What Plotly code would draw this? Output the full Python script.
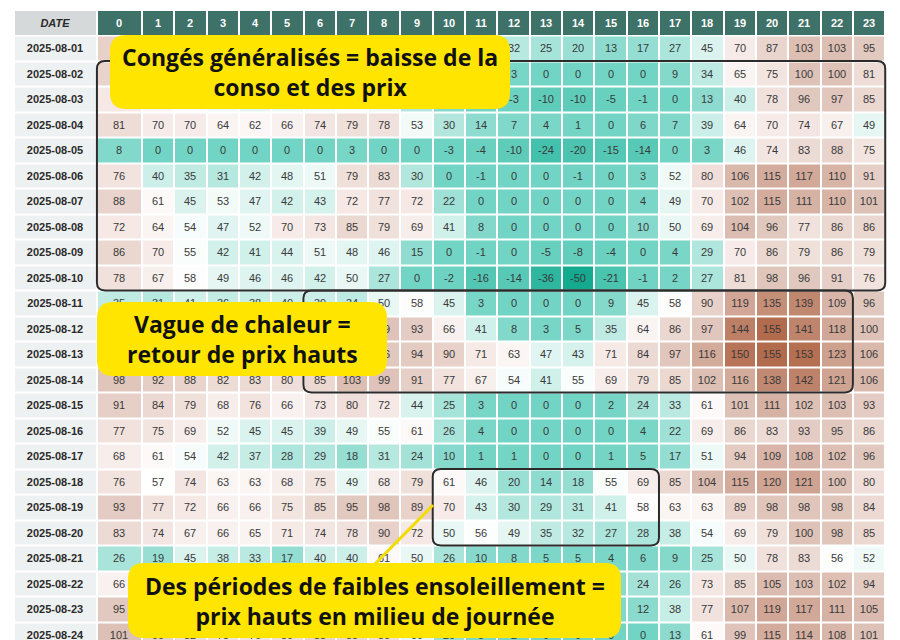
import plotly.graph_objects as go

# ---------------- data ----------------
hours = [str(h) for h in range(24)]
dates = ["2025-08-01", "2025-08-02", "2025-08-03", "2025-08-04", "2025-08-05",
         "2025-08-06", "2025-08-07", "2025-08-08", "2025-08-09", "2025-08-10",
         "2025-08-11", "2025-08-12", "2025-08-13", "2025-08-14", "2025-08-15",
         "2025-08-16", "2025-08-17", "2025-08-18", "2025-08-19", "2025-08-20",
         "2025-08-21", "2025-08-22", "2025-08-23", "2025-08-24"]

d01 = [90, 78, 72, 68, 66, 70, 78, 84, 80, 62, 45, 38, 32, 25, 20, 13, 17, 27, 45, 70, 87, 103, 103, 95]
d02 = [88, 76, 70, 66, 63, 66, 72, 74, 70, 52, 30, 12, 3, 0, 0, 0, 0, 9, 34, 65, 75, 100, 100, 81]
d03 = [72, 64, 58, 52, 48, 50, 52, 55, 50, 30, 8, -1, -3, -10, -10, -5, -1, 0, 13, 40, 78, 96, 97, 85]
d04 = [81, 70, 70, 64, 62, 66, 74, 79, 78, 53, 30, 14, 7, 4, 1, 0, 6, 7, 39, 64, 70, 74, 67, 49]
d05 = [8, 0, 0, 0, 0, 0, 0, 3, 0, 0, -3, -4, -10, -24, -20, -15, -14, 0, 3, 46, 74, 83, 88, 75]
d06 = [76, 40, 35, 31, 42, 48, 51, 79, 83, 30, 0, -1, 0, 0, -1, 0, 3, 52, 80, 106, 115, 117, 110, 91]
d07 = [88, 61, 45, 53, 47, 42, 43, 72, 77, 72, 22, 0, 0, 0, 0, 0, 4, 49, 70, 102, 115, 111, 110, 101]
d08 = [72, 64, 54, 47, 52, 70, 73, 85, 79, 69, 41, 8, 0, 0, 0, 0, 10, 50, 69, 104, 96, 77, 86, 86]
d09 = [86, 70, 55, 42, 41, 44, 51, 48, 46, 15, 0, -1, 0, -5, -8, -4, 0, 4, 29, 70, 86, 79, 86, 79]
d10 = [78, 67, 58, 49, 46, 46, 42, 50, 27, 0, -2, -16, -14, -36, -50, -21, -1, 2, 27, 81, 98, 96, 91, 76]
d11 = [35, 31, 41, 36, 38, 40, 39, 34, 50, 58, 45, 3, 0, 0, 0, 9, 45, 58, 90, 119, 135, 139, 109, 96]
d12 = [95, 88, 84, 80, 80, 78, 85, 100, 99, 93, 66, 41, 8, 3, 5, 35, 64, 86, 97, 144, 155, 141, 118, 100]
d13 = [96, 90, 86, 82, 82, 80, 88, 102, 96, 94, 90, 71, 63, 47, 43, 71, 84, 97, 116, 150, 155, 153, 123, 106]
d14 = [98, 92, 88, 82, 83, 80, 85, 103, 99, 91, 77, 67, 54, 41, 55, 69, 79, 85, 102, 116, 138, 142, 121, 106]
d15 = [91, 84, 79, 68, 76, 66, 73, 80, 72, 44, 25, 3, 0, 0, 0, 2, 24, 33, 61, 101, 111, 102, 103, 93]
d16 = [77, 75, 69, 52, 45, 45, 39, 49, 55, 61, 26, 4, 0, 0, 0, 0, 4, 22, 69, 86, 83, 93, 95, 86]
d17 = [68, 61, 54, 42, 37, 28, 29, 18, 31, 24, 10, 1, 1, 0, 0, 1, 5, 17, 51, 94, 109, 108, 102, 96]
d18 = [76, 57, 74, 63, 63, 68, 75, 49, 68, 79, 61, 46, 20, 14, 18, 55, 69, 85, 104, 115, 120, 121, 100, 80]
d19 = [93, 77, 72, 66, 66, 75, 85, 95, 98, 89, 70, 43, 30, 29, 31, 41, 58, 63, 63, 89, 98, 98, 98, 84]
d20 = [83, 74, 67, 66, 65, 71, 74, 78, 90, 72, 50, 56, 49, 35, 32, 27, 28, 38, 54, 69, 79, 100, 98, 85]
d21 = [26, 19, 45, 38, 33, 17, 40, 40, 61, 50, 26, 10, 8, 5, 5, 4, 6, 9, 25, 50, 78, 83, 56, 52]
d22 = [66, 58, 52, 48, 46, 50, 55, 62, 60, 45, 20, 8, 5, 4, 6, 12, 24, 26, 73, 85, 105, 103, 102, 94]
d23 = [95, 85, 78, 72, 70, 72, 80, 88, 82, 60, 30, 10, 5, 3, 4, 8, 12, 38, 77, 107, 119, 117, 111, 105]
d24 = [101, 90, 82, 78, 76, 80, 88, 85, 80, 50, 20, 5, 2, 0, 0, 0, 0, 13, 61, 99, 115, 114, 108, 101]

values = [d01, d02, d03, d04, d05, d06, d07, d08, d09, d10, d11, d12,
          d13, d14, d15, d16, d17, d18, d19, d20, d21, d22, d23, d24]

header_label = "DATE"
callout_1 = "Congés généralisés = baisse de la<br>conso et des prix"
callout_2 = "Vague de chaleur =<br>retour de prix hauts"
callout_3 = "Des périodes de faibles ensoleillement =<br>prix hauts en milieu de journée"

# ---------------- layout geometry ----------------
W, H = 900, 640
col0_left = -0.89
hour_edges = [col0_left] + [h + 0.5 for h in range(24)]
date_edges = [-3.456, -0.89]
row_idx = list(range(len(dates)))

colorscale = [
    [0.0000, "#14aa90"],
    [0.1220, "#42c0ab"],
    [0.2439, "#72d4c4"],
    [0.3415, "#9adfd4"],
    [0.4146, "#bfebe3"],
    [0.4780, "#e3f6f2"],
    [0.5220, "#ffffff"],
    [0.5854, "#f6ebe8"],
    [0.6585, "#ebd8d1"],
    [0.7317, "#dec2b8"],
    [0.8293, "#d0a594"],
    [0.9268, "#c0866e"],
    [1.0000, "#b36b4d"],
]

CELL_FONT = "Liberation Sans, Arial, sans-serif"

cell_text = [[str(v) for v in row] for row in values]

fig = go.Figure()

fig.add_trace(go.Heatmap(
    z=values, x=hour_edges, y=row_idx, text=cell_text,
    zmin=-50, zmax=155, colorscale=colorscale, showscale=False,
    xgap=2, ygap=2,
    texttemplate="%{text}", textfont=dict(family=CELL_FONT, size=11, color="#3a3a3a"),
    hoverinfo="skip",
))

fig.add_trace(go.Heatmap(
    z=[[1] * 24], x=hour_edges, y=[-1],
    text=[["<b>" + h + "</b>" for h in hours]], texttemplate="%{text}",
    textfont=dict(family=CELL_FONT, size=11, color="#ffffff"),
    colorscale=[[0, "#3e7167"], [1, "#3e7167"]], showscale=False,
    xgap=2, ygap=2, hoverinfo="skip",
))

fig.add_trace(go.Heatmap(
    z=[[1] for _ in dates], x=date_edges, y=row_idx,
    text=[["<b>" + d + "</b>"] for d in dates], texttemplate="%{text}",
    textfont=dict(family=CELL_FONT, size=11, color="#2a2a2a"),
    colorscale=[[0, "#eef1f1"], [1, "#eef1f1"]], showscale=False,
    xgap=2, ygap=2, hoverinfo="skip",
))

fig.add_trace(go.Heatmap(
    z=[[1]], x=date_edges, y=[-1],
    text=[["<b><i>" + header_label + "</i></b>"]], texttemplate="%{text}",
    textfont=dict(family=CELL_FONT, size=11, color="#2a2a2a"),
    colorscale=[[0, "#d6d9d9"], [1, "#d6d9d9"]], showscale=False,
    xgap=2, ygap=2, hoverinfo="skip",
))


def rounded(x0, x1, y0, y1, rx, ry):
    return (f"M {x0+rx},{y0} L {x1-rx},{y0} Q {x1},{y0} {x1},{y0+ry} "
            f"L {x1},{y1-ry} Q {x1},{y1} {x1-rx},{y1} "
            f"L {x0+rx},{y1} Q {x0},{y1} {x0},{y1-ry} "
            f"L {x0},{y0+ry} Q {x0},{y0} {x0+rx},{y0} Z")


shapes = []
frames = [
    (0, 23, 1, 9),
    (6, 22, 10, 13),
    (10, 16, 17, 19),
]
for c0, c1, r0, r1 in frames:
    x0 = hour_edges[c0]
    x1 = hour_edges[c1 + 1]
    y0 = r0 - 0.5
    y1 = r1 + 0.5
    shapes.append(dict(type="path", xref="x", yref="y",
                       path=rounded(x0, x1, y1, y0, 0.25, -0.3),
                       line=dict(color="#2b2b2b", width=2), fillcolor="rgba(0,0,0,0)"))


def px_x(p):
    return p / W


def px_y(p):
    return 1 - p / H


shapes.append(dict(type="line", xref="paper", yref="paper",
                   x0=px_x(433), y0=px_y(505), x1=px_x(373), y1=px_y(566),
                   line=dict(color="#f3dc00", width=3)))

boxes = [
    (110, 510, 35, 109, callout_1),
    (97, 387, 302, 376, callout_2),
    (128, 621, 563, 638, callout_3),
]
annotations = []
for bx0, bx1, by0, by1, txt in boxes:
    shapes.append(dict(type="path", xref="paper", yref="paper",
                       path=rounded(px_x(bx0), px_x(bx1), px_y(by0), px_y(by1),
                                    16 / W, -16 / H),
                       line=dict(width=0), fillcolor="#ffe500"))
    annotations.append(dict(xref="paper", yref="paper",
                            x=px_x((bx0 + bx1) / 2), y=px_y((by0 + by1) / 2),
                            text="<b>" + txt + "</b>", showarrow=False,
                            xanchor="center", yanchor="middle", align="center",
                            font=dict(family="Open Sans, Noto Sans, sans-serif",
                                      size=23, color="#111111")))

x_lo = -125.7 / 32.32
x_hi = (W - 125.7) / 32.32
y_top = -1.5 - 10 / 25.5
y_bot = y_top + H / 25.5

fig.update_layout(
    width=W, height=H,
    margin=dict(l=0, r=0, t=0, b=0),
    paper_bgcolor="white", plot_bgcolor="white",
    xaxis=dict(visible=False, range=[x_lo, x_hi], fixedrange=True),
    yaxis=dict(visible=False, range=[y_bot, y_top], fixedrange=True),
    shapes=shapes, annotations=annotations,
    showlegend=False,
)

fig.write_html("out.html",
               config={"displayModeBar": False, "staticPlot": True},
               post_script="document.body.style.margin='0';document.body.style.overflow='hidden';")
